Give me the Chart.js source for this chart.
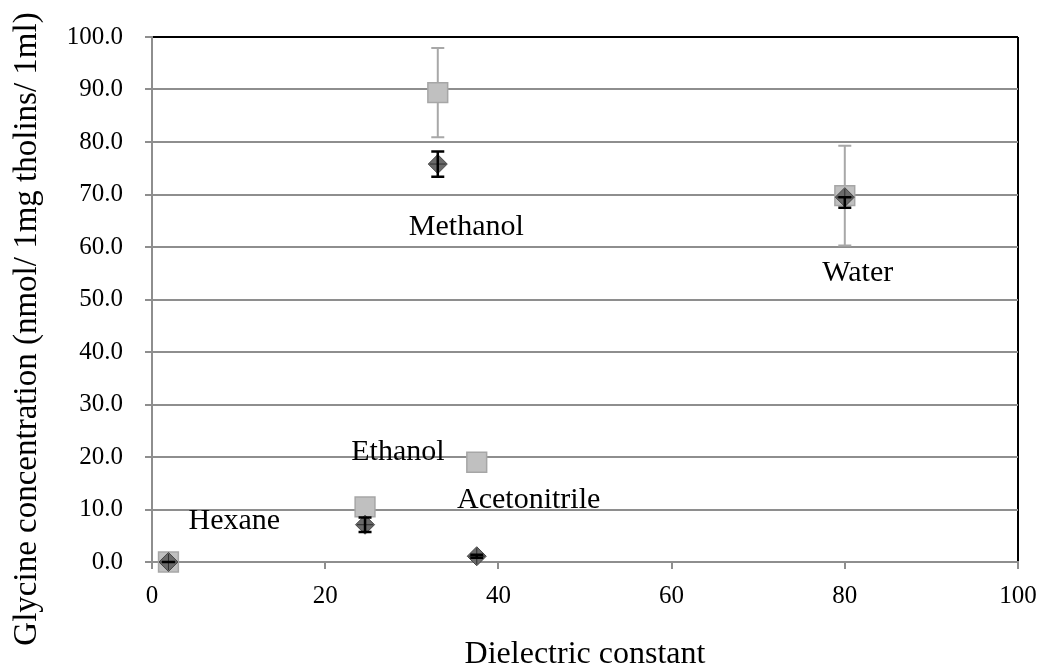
<!DOCTYPE html>
<html>
<head>
<meta charset="utf-8">
<script src="https://cdn.jsdelivr.net/npm/chart.js@4"></script>
<style>
  html, body { margin: 0; padding: 0; background: #fff; }
</style>
</head>
<body>
<canvas id="myChart" width="1043" height="671"></canvas>
<script>
// Solvents and their dielectric constants
var solvents = ['Hexane', 'Ethanol', 'Acetonitrile', 'Methanol', 'Water'];
var dielectric = [1.9, 24.6, 37.5, 33.0, 80.0];

// Glycine, grey square series and its error
var glySquare = [0.0, 10.5, 19.0, 89.4, 69.8];
var glySquareErr = [0, 0, 0, 8.5, 9.5];

// Glycine, dark diamond series, error up / down
var glyDiamond = [0.0, 7.1, 1.1, 75.8, 69.5];
var glyDiamondErrUp = [0, 1.4, 0.3, 2.4, 0];
var glyDiamondErrDown = [0, 1.4, 0.3, 2.4, 2.0];

// Where each solvent name is written, in axis units
var labelX = [9.5, 28.4, 43.5, 36.3, 81.5];
var labelY = [7.8, 20.9, 11.8, 63.7, 55.1];

var xTitle = 'Dielectric constant';
var yTitle = 'Glycine concentration (nmol/ 1mg tholins/ 1ml)';

var serif = '"Liberation Serif", "Times New Roman", serif';
var gridGrey = '#8e8e8e';

// Vertical error bars with caps
function drawBars(ctx, chart, xs, ys, up, down, color, width) {
  const sx = chart.scales.x, sy = chart.scales.y;
  ctx.save();
  ctx.strokeStyle = color;
  ctx.lineWidth = width;
  for (let i = 0; i < xs.length; i++) {
    const x = sx.getPixelForValue(xs[i]);
    const yTop = sy.getPixelForValue(ys[i] + up[i]);
    const yBot = sy.getPixelForValue(ys[i] - down[i]);
    ctx.beginPath();
    ctx.moveTo(x, yTop); ctx.lineTo(x, yBot);
    ctx.moveTo(x - 6.5, yTop); ctx.lineTo(x + 6.5, yTop);
    ctx.moveTo(x - 6.5, yBot); ctx.lineTo(x + 6.5, yBot);
    ctx.stroke();
  }
  ctx.restore();
}

const extras = {
  id: 'extras',
  beforeDatasetsDraw(chart) {
    drawBars(chart.ctx, chart, dielectric, glySquare, glySquareErr, glySquareErr, '#a8a8a8', 2);
  },
  afterDatasetsDraw(chart) {
    const ctx = chart.ctx, sx = chart.scales.x, sy = chart.scales.y;
    // thin cross inside each diamond
    ctx.save();
    ctx.strokeStyle = '#2e2e2e';
    ctx.lineWidth = 1;
    for (let i = 0; i < dielectric.length; i++) {
      const x = sx.getPixelForValue(dielectric[i]);
      const y = sy.getPixelForValue(glyDiamond[i]);
      ctx.beginPath();
      ctx.moveTo(x - 8, y); ctx.lineTo(x + 8, y);
      ctx.moveTo(x, y - 8); ctx.lineTo(x, y + 8);
      ctx.stroke();
    }
    ctx.restore();
    drawBars(ctx, chart, dielectric, glyDiamond, glyDiamondErrUp, glyDiamondErrDown, '#000', 2.5);

    // solvent names
    ctx.save();
    ctx.fillStyle = '#000';
    ctx.font = '30px ' + serif;
    ctx.textAlign = 'center';
    ctx.textBaseline = 'middle';
    for (let i = 0; i < solvents.length; i++) {
      ctx.fillText(solvents[i], sx.getPixelForValue(labelX[i]), sy.getPixelForValue(labelY[i]));
    }
    // axis titles
    ctx.font = '32px ' + serif;
    ctx.fillText(xTitle, (chart.chartArea.left + chart.chartArea.right) / 2, 655);
    ctx.font = '33px ' + serif;
    ctx.translate(27, 329);
    ctx.rotate(-Math.PI / 2);
    ctx.fillText(yTitle, 0, 0);
    ctx.restore();
  }
};

const ctx = document.getElementById('myChart');
var myChart = new Chart(ctx, {
  type: 'scatter',
  data: {
    datasets: [{
      label: 'diamond',
      data: dielectric.map((x, i) => ({ x: x, y: glyDiamond[i] })),
      pointStyle: 'rectRot',
      pointRadius: 9.5,
      pointHoverRadius: 9.5,
      backgroundColor: '#6a6a6a',
      borderColor: '#464646',
      borderWidth: 1,
      clip: false,
    }, {
      label: 'square',
      data: dielectric.map((x, i) => ({ x: x, y: glySquare[i] })),
      pointStyle: 'rect',
      pointRadius: 14,
      pointHoverRadius: 14,
      backgroundColor: '#c0c0c0',
      borderColor: '#a6a6a6',
      borderWidth: 1.5,
      clip: false,
    }]
  },
  options: {
    responsive: false,
    animation: false,
    layout: { padding: { top: 36, right: 25, left: 0, bottom: 0 } },
    scales: {
      x: {
        type: 'linear',
        min: 0,
        max: 100,
        afterFit: (scale) => {
          scale.height = 109;
          scale.paddingRight = 0;
          scale.paddingLeft = 0;
        },
        ticks: {
          stepSize: 20,
          padding: 12,
          color: '#000',
          font: { family: serif, size: 25 },
        },
        grid: {
          color: (c) => c.tick && c.tick.value === 100 ? '#000' : 'rgba(0,0,0,0)',
          tickColor: gridGrey,
          tickLength: 7,
          lineWidth: 2,
        },
        border: { color: gridGrey, width: 2 },
      },
      y: {
        min: 0,
        max: 100,
        afterFit: (scale) => { scale.width = 152; },
        ticks: {
          stepSize: 10,
          padding: 22,
          color: '#000',
          font: { family: serif, size: 25 },
          callback: (v) => v.toFixed(1),
        },
        grid: {
          color: (c) => c.tick && c.tick.value === 100 ? '#000' : gridGrey,
          tickColor: gridGrey,
          tickLength: 7,
          lineWidth: 2,
        },
        border: { color: gridGrey, width: 2 },
      }
    },
    plugins: {
      legend: { display: false },
      tooltip: { enabled: false },
    }
  },
  plugins: [extras]
});
</script>
</body>
</html>
